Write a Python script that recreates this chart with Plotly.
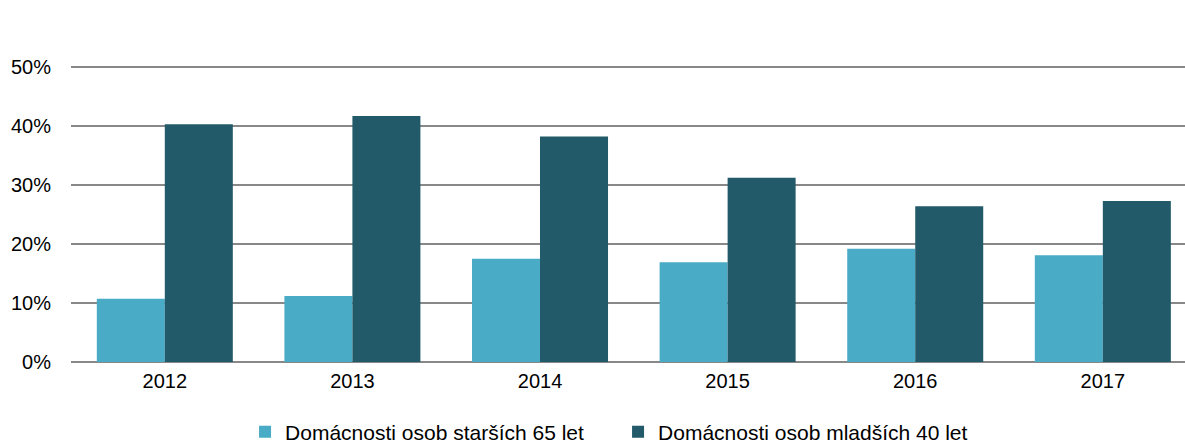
import plotly.graph_objects as go

years = ["2012", "2013", "2014", "2015", "2016", "2017"]
older_65 = [10.7, 11.2, 17.5, 16.9, 19.2, 18.1]
younger_40 = [40.3, 41.7, 38.2, 31.2, 26.4, 27.3]
series_names = ["Domácnosti osob starších 65 let", "Domácnosti osob mladších 40 let"]
y_ticks = [0, 10, 20, 30, 40, 50]

fig = go.Figure()
fig.add_trace(go.Bar(x=years, y=older_65, name=series_names[0],
                     marker=dict(color="#4aabc6", line=dict(width=0))))
fig.add_trace(go.Bar(x=years, y=younger_40, name=series_names[1],
                     marker=dict(color="#225a69", line=dict(width=0))))

fig.update_layout(
    width=1185, height=443,
    margin=dict(l=71, r=0, t=61, b=81, autoexpand=False),
    paper_bgcolor="white", plot_bgcolor="white",
    barmode="group", bargap=0.275, bargroupgap=0,
    font=dict(family="Liberation Sans, Arial, sans-serif", size=20, color="#000000"),
    xaxis=dict(type="category", range=[-0.5, 5.438], showgrid=False, automargin=False,
               showline=False, ticks="", ticklabelstandoff=5,
               tickfont=dict(size=20, color="#000000")),
    yaxis=dict(range=[0, 51], tickvals=y_ticks, ticktext=[f"{v}%" for v in y_ticks],
               automargin=False,
               showgrid=True, gridcolor="#888888", gridwidth=2,
               zeroline=True, zerolinecolor="#888888", zerolinewidth=2,
               ticks="", ticklabelstandoff=19, tickfont=dict(size=20, color="#000000")),
    legend=dict(orientation="h", xref="container", yref="paper",
                x=0.2068, xanchor="left", y=-0.2326, yanchor="middle",
                entrywidth=328, font=dict(size=21, color="#000000"),
                itemclick=False),
    showlegend=True,
)

fig.write_html("out.html",
               config={"displayModeBar": False},
               post_script="document.body.style.margin='0px';document.body.style.overflow='hidden';")
